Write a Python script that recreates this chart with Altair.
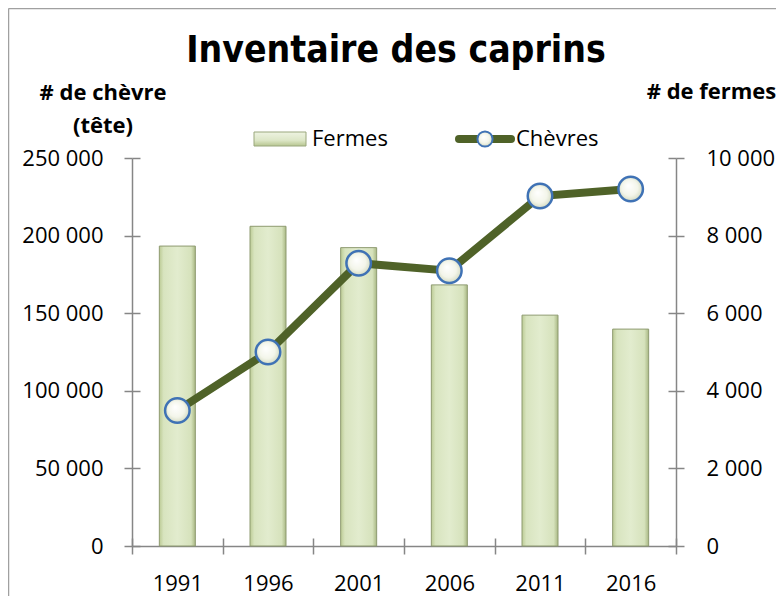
import altair as alt
import pandas as pd

# ---- data ----
years = ["1991", "1996", "2001", "2006", "2011", "2016"]
fermes = [7730, 8240, 7690, 6730, 5950, 5590]          # right axis (# de fermes), bars
chevres = [87300, 125000, 182200, 177400, 225500, 230000]  # left axis (# de chèvre), line
left_ticks = [0, 50000, 100000, 150000, 200000, 250000]
right_ticks = [0, 2000, 4000, 6000, 8000, 10000]
title_text = "Inventaire des caprins"
left_title = ["# de chèvre", "(tête)"]
right_title = "# de fermes"
legend_labels = ["Fermes", "Chèvres"]

df = pd.DataFrame({"annee": years, "fermes": fermes, "chevres": chevres})
one = pd.DataFrame({"k": [0]})

W, H = 544, 388
FONT = "Open Sans"
AXIS_COLOR = "#868686"
LINE_COLOR = "#4F6228"
MARKER_STROKE = "#3F72B5"

xscale = alt.Scale(type="band", domain=years, paddingInner=0, paddingOuter=0)
yl = alt.Scale(domain=[0, 250000], nice=False, zero=True)
yr = alt.Scale(domain=[0, 10000], nice=False, zero=True)
fmt = "replace(format(datum.value, ','), ',', ' ')"

bar_fill = alt.LinearGradient(
    gradient="linear", x1=0, x2=1, y1=0, y2=0,
    stops=[
        alt.GradientStop(offset=0, color="#BCCB95"),
        alt.GradientStop(offset=0.12, color="#D8E4BF"),
        alt.GradientStop(offset=0.5, color="#E2ECCE"),
        alt.GradientStop(offset=0.88, color="#D6E2BC"),
        alt.GradientStop(offset=1, color="#A9B884"),
    ],
)
legend_fill = alt.LinearGradient(
    gradient="linear", x1=0, x2=0, y1=0, y2=1,
    stops=[
        alt.GradientStop(offset=0, color="#EEF3E2"),
        alt.GradientStop(offset=0.6, color="#DCE6C6"),
        alt.GradientStop(offset=1, color="#B7C690"),
    ],
)
marker_fill = alt.RadialGradient(
    gradient="radial", x1=0.4, y1=0.35, r1=0, x2=0.5, y2=0.5, r2=0.55,
    stops=[
        alt.GradientStop(offset=0, color="#FFFFFF"),
        alt.GradientStop(offset=0.6, color="#F3F5EA"),
        alt.GradientStop(offset=1, color="#CDD5B8"),
    ],
)

base = alt.Chart(df)

bars = base.mark_bar(size=36, fill=bar_fill, stroke="#8E9B70", strokeWidth=1).encode(
    x=alt.X("annee:N", scale=xscale, sort=years,
            axis=alt.Axis(orient="bottom", title=None, tickBand="extent", tickSize=8,
                          labelPadding=19, labelAngle=0)),
    y=alt.Y("fermes:Q", scale=yr,
            axis=alt.Axis(orient="right", values=right_ticks, labelExpr=fmt, tickSize=8,
                          labelPadding=22, title=right_title, titleAngle=0,
                          titleAlign="center", titleBaseline="alphabetic",
                          titleX=35, titleY=-60)),
)

line = base.mark_line(color=LINE_COLOR, strokeWidth=8).encode(
    x=alt.X("annee:N", scale=xscale, sort=years, axis=None),
    y=alt.Y("chevres:Q", scale=yl,
            axis=alt.Axis(orient="left", values=left_ticks, labelExpr=fmt, tickSize=8,
                          labelPadding=21, title=left_title, titleAngle=0,
                          titleAlign="center", titleBaseline="alphabetic",
                          titleX=-29.5, titleY=-59, titleLineHeight=33)),
)

pts = base.mark_point(shape="circle", filled=True, size=600, fill=marker_fill,
                      stroke=MARKER_STROKE, strokeWidth=2.5, opacity=1).encode(
    x=alt.X("annee:N", scale=xscale, sort=years, axis=None),
    y=alt.Y("chevres:Q", scale=yl, axis=None),
)

# inner halves of the crossing tick marks
tick_left = base.mark_point(opacity=0).encode(
    x=alt.X("annee:N", scale=xscale, sort=years, axis=None),
    y=alt.Y("chevres:Q", scale=yl,
            axis=alt.Axis(orient="left", offset=-8, values=left_ticks, domain=False,
                          labels=False, tickSize=8, title=None)),
)
tick_right = base.mark_point(opacity=0).encode(
    x=alt.X("annee:N", scale=xscale, sort=years, axis=None),
    y=alt.Y("fermes:Q", scale=yr,
            axis=alt.Axis(orient="right", offset=-8, values=right_ticks, domain=False,
                          labels=False, tickSize=8, title=None)),
)
tick_x = base.mark_point(opacity=0).encode(
    x=alt.X("annee:N", scale=xscale, sort=years,
            axis=alt.Axis(orient="bottom", offset=-8, domain=False, labels=False,
                          tickBand="extent", tickSize=8, title=None)),
    y=alt.Y("chevres:Q", scale=yl, axis=None),
)

oc = alt.Chart(one)
title = oc.mark_text(text=title_text, font="DejaVu Sans Condensed", fontSize=37,
                     fontWeight="bold", align="center", baseline="alphabetic",
                     color="black").encode(x=alt.value(264), y=alt.value(-96))

leg_rect = oc.mark_rect(fill=legend_fill, stroke="#9AA77C", strokeWidth=1).encode(
    x=alt.value(122), x2=alt.value(174), y=alt.value(-26), y2=alt.value(-12))
leg_t1 = oc.mark_text(text=legend_labels[0], font=FONT, fontSize=22, align="left",
                      baseline="middle", color="black").encode(x=alt.value(180), y=alt.value(-19))
leg_rule = oc.mark_rule(color=LINE_COLOR, strokeWidth=8, strokeCap="round").encode(
    x=alt.value(327), x2=alt.value(379), y=alt.value(-19))
leg_pt = oc.mark_point(shape="circle", filled=True, size=230, fill=marker_fill,
                       stroke=MARKER_STROKE, strokeWidth=2, opacity=1).encode(
    x=alt.value(353), y=alt.value(-19))
leg_t2 = oc.mark_text(text=legend_labels[1], font=FONT, fontSize=22, align="left",
                      baseline="middle", color="black").encode(x=alt.value(384), y=alt.value(-19))

border_top = oc.mark_rule(color="#A0A0A0", strokeWidth=1.5).encode(
    x=alt.value(-123.5), x2=alt.value(644), y=alt.value(-149.5))
border_left = oc.mark_rule(color="#A0A0A0", strokeWidth=1.5).encode(
    x=alt.value(-123.5), y=alt.value(-149.5), y2=alt.value(440))

chart = alt.layer(
    bars, line, pts, tick_left, tick_right, tick_x,
    title, leg_rect, leg_t1, leg_rule, leg_pt, leg_t2, border_top, border_left,
).resolve_scale(x="independent", y="independent").properties(
    width=W, height=H,
    autosize=alt.AutoSizeParams(type="none"),
    padding={"left": 124, "top": 150, "right": 100, "bottom": 50},
    background="white",
).configure_axis(
    labelFont=FONT, labelFontSize=22, labelColor="black",
    titleFont=FONT, titleFontSize=22, titleFontWeight="bold", titleColor="black",
    domainColor=AXIS_COLOR, tickColor=AXIS_COLOR, domainWidth=1.5, tickWidth=1.5,
    grid=False,
).configure_view(stroke=None)

chart.save("out.html", embed_options={"renderer": "svg", "actions": False})
